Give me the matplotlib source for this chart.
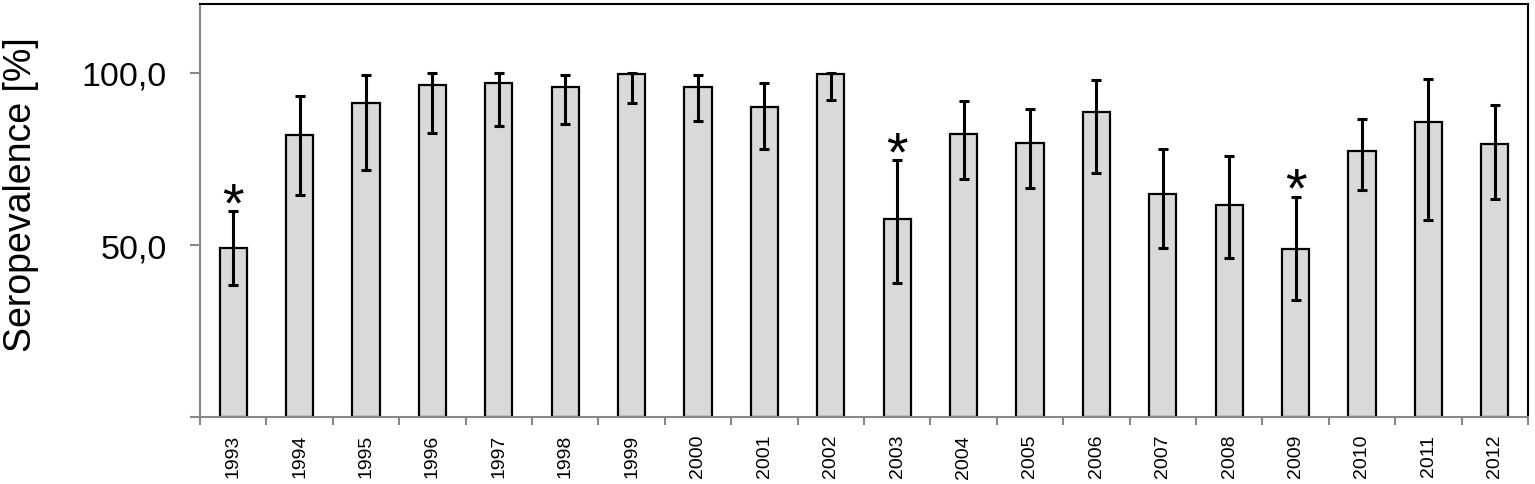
import matplotlib.pyplot as plt
import numpy as np

years = ['1993', '1994', '1995', '1996', '1997', '1998', '1999', '2000', '2001', '2002',
         '2003', '2004', '2005', '2006', '2007', '2008', '2009', '2010', '2011', '2012']
seroprevalence = [49.1, 81.9, 91.3, 96.6, 97.2, 96.0, 99.8, 96.0, 90.2, 99.8,
                  57.6, 82.4, 79.7, 88.7, 64.7, 61.5, 48.9, 77.3, 85.8, 79.4]
ci_low = [38.5, 64.4, 71.7, 82.6, 84.7, 85.3, 91.4, 86.1, 78.0, 92.0,
          38.9, 69.3, 66.6, 71.0, 49.2, 46.3, 34.1, 66.1, 57.2, 63.5]
ci_high = [59.8, 93.3, 99.3, 100.0, 100.0, 99.5, 100.0, 99.5, 97.2, 100.0,
           74.6, 91.7, 89.4, 97.8, 78.0, 75.8, 64.0, 86.7, 98.3, 90.8]
significant = ['1993', '2003', '2009']

plt.rcParams['font.family'] = ['Liberation Sans', 'DejaVu Sans']

vals = np.array(seroprevalence)
lo = np.array(ci_low)
hi = np.array(ci_high)
x = np.arange(len(years)) + 0.5

fig = plt.figure(figsize=(15.35, 4.85), dpi=100)
ax = fig.add_axes([0.1303, 0.1375, 0.8651, 0.8522])

ax.bar(x, vals, width=0.41, color='#d9d9d9', edgecolor='black', linewidth=1.6, zorder=2)
ax.errorbar(x, vals, yerr=[vals - lo, hi - vals], fmt='none', ecolor='black',
            elinewidth=2.2, capsize=3.8, capthick=2.2, zorder=3)

# asterisks mark the significantly lower years
for i, y in enumerate(years):
    if y in significant:
        ax.text(x[i], hi[i] - 2.5, '*', ha='center', va='baseline', fontsize=40)

ax.set_xlim(0, len(years))
ax.set_ylim(0, 120)

ax.set_yticks([0, 50, 100])
ax.set_yticklabels(['', '50,0', '100,0'])
ax.tick_params(axis='y', direction='out', length=7, width=1.5, color='#888888',
               labelsize=24.5, pad=17)

ax.set_xticks(np.arange(len(years) + 1), minor=True)
ax.set_xticks(x)
ax.set_xticklabels(years, rotation=90, fontsize=14)
ax.tick_params(axis='x', which='major', length=0, pad=12)
ax.tick_params(axis='x', which='minor', direction='out', length=6, width=1.5, color='#888888')

for s in ['left', 'bottom']:
    ax.spines[s].set_color('#888888')
    ax.spines[s].set_linewidth(1.5)
for s in ['top', 'right']:
    ax.spines[s].set_color('black')
    ax.spines[s].set_linewidth(1.5)

fig.text(0.014, 0.598, 'Seropevalence [%]', rotation=90, ha='center', va='center', fontsize=27)

fig.savefig('out.png', dpi=100)
plt.close()
